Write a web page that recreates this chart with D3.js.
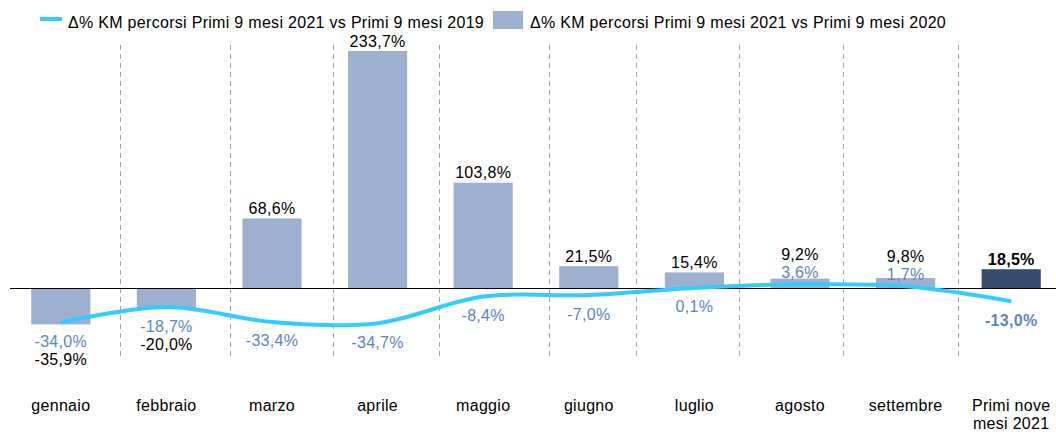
<!DOCTYPE html>
<html>
<head>
<meta charset="utf-8">
<script src="https://cdn.jsdelivr.net/npm/d3@7"></script>
<style>
  body { margin: 0; background: #fff; }
  svg { display: block; font-family: "Liberation Sans", Arial, sans-serif; letter-spacing: 0.3px; }
</style>
</head>
<body>
<script>
const months = ["gennaio", "febbraio", "marzo", "aprile", "maggio", "giugno", "luglio", "agosto", "settembre", "Primi nove\nmesi 2021"];
const vs2020 = [-35.9, -20.0, 68.6, 233.7, 103.8, 21.5, 15.4, 9.2, 9.8, 18.5];
const vs2019 = [-34.0, -18.7, -33.4, -34.7, -8.4, -7.0, 0.1, 3.6, 1.7, -13.0];
const legendLabels = [
  "Δ% KM percorsi Primi 9 mesi 2021 vs Primi 9 mesi 2019",
  "Δ% KM percorsi Primi 9 mesi 2021 vs Primi 9 mesi 2020"
];
// where the dashed separators sit, in category units
const dividers = [0.56, 1.6, 2.58, 3.58, 4.62, 5.45, 6.42, 7.41, 8.5];

const width = 1056;
const height = 434;
const fontSize = 16;

const barColor = "#9db0cf";
const totalColor = "#364a6b";
const lineColor = "#33ccff";
const lineLabelColor = "#5a86c6";

const locale = d3.formatLocale({ decimal: ",", thousands: ".", grouping: [3], currency: ["", "€"], minus: "-" });
const fmt = (v) => locale.format(".1f")(v) + "%";

const x = d3.scaleBand().domain(months).range([8, 1064]).paddingInner(0.44).paddingOuter(0.22);
const y = d3.scaleLinear().domain([-60, 240]).range([288 + 60 * 1.0141, 288 - 240 * 1.0141]);
const cx = (i) => x(months[i]) + x.bandwidth() / 2;
const unit = d3.scaleLinear().domain([0, 1]).range([cx(0), cx(1)]);

const svg = d3.select("body").append("svg").attr("width", width).attr("height", height);

// dashed separators
svg.append("g")
  .attr("stroke", "#a6a6a6")
  .attr("stroke-dasharray", "5,4")
  .selectAll("line")
  .data(dividers)
  .join("line")
  .attr("x1", (d) => Math.round(unit(d)) + 0.5)
  .attr("x2", (d) => Math.round(unit(d)) + 0.5)
  .attr("y1", 45)
  .attr("y2", 356);

// bars
svg.append("g")
  .selectAll("rect")
  .data(vs2020)
  .join("rect")
  .attr("x", (d, i) => x(months[i]))
  .attr("width", x.bandwidth())
  .attr("y", (d) => y(Math.max(0, d)))
  .attr("height", (d) => Math.abs(y(d) - y(0)))
  .attr("fill", (d, i) => (i === months.length - 1 ? totalColor : barColor));

// zero line
svg.append("line")
  .attr("x1", 10)
  .attr("x2", width)
  .attr("y1", Math.round(y(0)) + 0.5)
  .attr("y2", Math.round(y(0)) + 0.5)
  .attr("stroke", "#000");

// smoothed line
const line = d3.line()
  .x((d, i) => cx(i))
  .y((d) => y(d))
  .curve(d3.curveCatmullRom.alpha(0.5));

svg.append("path")
  .datum(vs2019)
  .attr("d", line)
  .attr("fill", "none")
  .attr("stroke", lineColor)
  .attr("stroke-width", 4);

// label placement
const lineLabelY = vs2019.map((v) => (v < 1 ? y(v) + 19 : y(v) - 12));
const barLabelY = vs2020.map((v, i) => {
  if (v < 0) return lineLabelY[i] + 18;
  if (vs2019[i] >= 1) return lineLabelY[i] - 18;
  return y(v) - 10;
});
const isTotal = (i) => i === months.length - 1;

svg.append("g")
  .attr("font-size", fontSize)
  .attr("text-anchor", "middle")
  .attr("fill", lineLabelColor)
  .selectAll("text")
  .data(vs2019)
  .join("text")
  .attr("x", (d, i) => cx(i))
  .attr("y", (d, i) => lineLabelY[i])
  .attr("dy", "0.35em")
  .attr("font-weight", (d, i) => (isTotal(i) ? "bold" : null))
  .text(fmt);

svg.append("g")
  .attr("font-size", fontSize)
  .attr("text-anchor", "middle")
  .attr("fill", "#000")
  .selectAll("text")
  .data(vs2020)
  .join("text")
  .attr("x", (d, i) => cx(i))
  .attr("y", (d, i) => barLabelY[i])
  .attr("dy", "0.35em")
  .attr("font-weight", (d, i) => (isTotal(i) ? "bold" : null))
  .text(fmt);

// category axis
const axis = svg.append("g")
  .attr("transform", "translate(0,397)")
  .call(d3.axisBottom(x).tickSize(0).tickPadding(3));
axis.select(".domain").remove();
axis.selectAll("text")
  .attr("font-size", fontSize)
  .attr("font-family", null)
  .attr("fill", "#000")
  .each(function (d) {
    const parts = d.split("\n");
    if (parts.length < 2) return;
    const t = d3.select(this).text(null);
    parts.forEach((p, k) => {
      t.append("tspan")
        .attr("x", 0)
        .attr("dy", k === 0 ? "0.71em" : "1.1em")
        .text(p);
    });
    t.attr("dy", null);
  });

// legend
const legend = svg.append("g").attr("font-size", fontSize).attr("fill", "#000");
legend.append("line")
  .attr("x1", 40).attr("x2", 62)
  .attr("y1", 19).attr("y2", 19)
  .attr("stroke", lineColor)
  .attr("stroke-width", 4);
legend.append("text").attr("x", 68).attr("y", 28).text(legendLabels[0]);
legend.append("rect")
  .attr("x", 493).attr("y", 11)
  .attr("width", 30).attr("height", 18)
  .attr("fill", barColor);
legend.append("text").attr("x", 530).attr("y", 28).text(legendLabels[1]);
</script>
</body>
</html>
